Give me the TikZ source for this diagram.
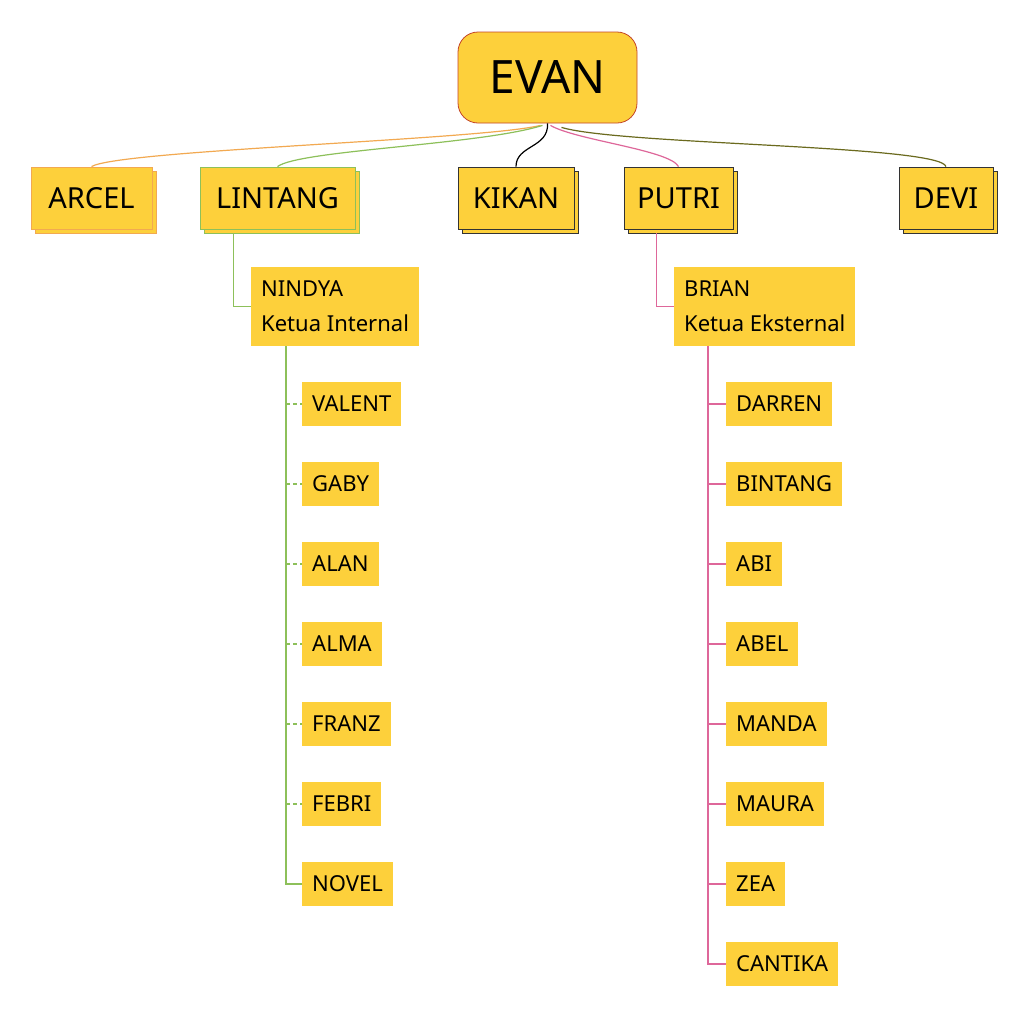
\documentclass[tikz,border=0pt]{standalone}
\usepackage{fontspec}
\setmainfont{Noto Sans}
\usepackage{tikz}
\usetikzlibrary{positioning, calc, shadows}
\definecolor{gold}{RGB}{253,208,59}
\definecolor{evanred}{RGB}{196,70,40}
\definecolor{arcelorange}{RGB}{242,169,81}
\definecolor{lintanggreen}{RGB}{141,192,90}
\definecolor{putripink}{RGB}{222,103,154}
\definecolor{deviolive}{RGB}{107,106,30}
\begin{document}
\begin{tikzpicture}[x=1pt, y=-1pt,
  root/.style={rectangle, rounded corners=20pt, draw=evanred, fill=gold, line width=0.8pt,
               minimum width=179pt, minimum height=91pt, font=\fontsize{46}{50}\selectfont},
  head/.style={rectangle, fill=gold, line width=0.9pt, minimum height=62pt,
               inner sep=0pt, font=\fontsize{29}{32}\selectfont,
               copy shadow={shadow xshift=4pt, shadow yshift=-4pt}},
  chief/.style={rectangle, fill=gold, anchor=north west, align=left,
                inner xsep=10pt, minimum height=79pt,
                font=\fontsize{22}{35}\selectfont},
  leaf/.style={rectangle, fill=gold, anchor=west, inner xsep=10pt,
               minimum height=44pt, font=\fontsize{22}{26}\selectfont},
  link/.style={line width=1.2pt},
  stub/.style={line width=1.2pt, dash pattern=on 4pt off 3pt}
]
\useasboundingbox[fill=white] (0,0) rectangle (1028,1018);
%% Root
\node[root] (evan) at (547.5,77.5) {EVAN};
%% Heads
\node[head, draw=arcelorange, minimum width=121pt] (arcel) at (91.5,198) {ARCEL};
\node[head, draw=lintanggreen, minimum width=155pt] (lintang) at (277.5,198) {LINTANG};
\node[head, draw=black!80, minimum width=116pt] (kikan) at (516,198) {KIKAN};
\node[head, draw=black!80, minimum width=109pt] (putri) at (678.5,198) {PUTRI};
\node[head, draw=black!80, minimum width=94pt] (devi) at (946,198) {DEVI};
%% Curves from root
\draw[link, arcelorange] ([xshift=-7pt,yshift=-2pt]evan.south) .. controls (480,140) and (120,150) .. (arcel.north);
\draw[link, lintanggreen] ([xshift=-5pt,yshift=-2pt]evan.south) .. controls (480,145) and (300,150) .. (lintang.north);
\draw[link, black] (evan.south) .. controls (549,148) and (516,145) .. (kikan.north);
\draw[link, putripink] ([xshift=3pt,yshift=-2pt]evan.south) .. controls (575,140) and (670,150) .. (putri.north);
\draw[link, deviolive] ([xshift=14pt,yshift=-4pt]evan.south) .. controls (620,145) and (940,145) .. (devi.north);
%% Chiefs
\node[chief] (nindya) at (251,267) {NINDYA\\Ketua Internal};
\node[chief] (brian) at (674,267) {BRIAN\\Ketua Eksternal};
\coordinate (lintangB) at ($(lintang.south west)+(34,4)$);
\coordinate (putriB) at ($(putri.south west)+(33,4)$);
\draw[link, lintanggreen] (lintangB) |- (nindya.west);
\draw[link, putripink] (putriB) |- (brian.west);
%% Internal members
\foreach \n/\t/\y in {valent/VALENT/404, gaby/GABY/484, alan/ALAN/564, alma/ALMA/644,
                      franz/FRANZ/724, febri/FEBRI/804, novel/NOVEL/884}{
  \node[leaf] (\n) at (302,\y) {\t};}
\coordinate (trunkL) at ($(nindya.south west)+(35,0)$);
\draw[link, lintanggreen] (trunkL) |- (novel.west);
\foreach \n in {valent, gaby, alan, alma, franz, febri}{
  \draw[stub, lintanggreen] (\n.west -| trunkL) -- (\n.west);}
%% External members
\foreach \n/\t/\y in {darren/DARREN/404, bintang/BINTANG/484, abi/ABI/564, abel/ABEL/644,
                      manda/MANDA/724, maura/MAURA/804, zea/ZEA/884, cantika/CANTIKA/964}{
  \node[leaf] (\n) at (726,\y) {\t};}
\coordinate (trunkR) at ($(brian.south west)+(34,0)$);
\draw[link, putripink] (trunkR) |- (cantika.west);
\foreach \n in {darren, bintang, abi, abel, manda, maura, zea}{
  \draw[link, putripink] (\n.west -| trunkR) -- (\n.west);}
\end{tikzpicture}
\end{document}
